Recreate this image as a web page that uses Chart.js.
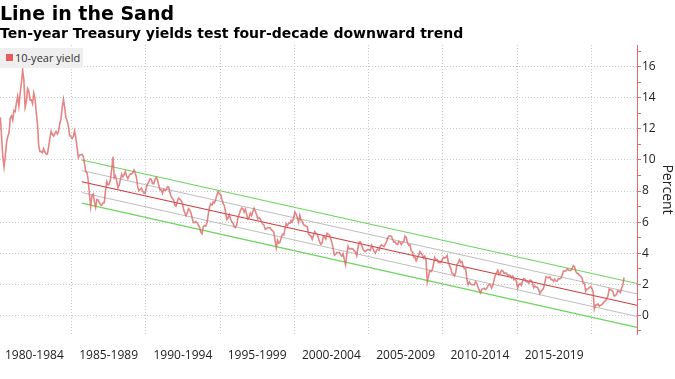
<!DOCTYPE html>
<html><head><meta charset="utf-8">
<script src="https://cdn.jsdelivr.net/npm/chart.js@4"></script>
<style>
html,body{margin:0;padding:0;background:#fff;}
#wrap{position:relative;width:675px;height:379px;overflow:hidden;background:#fff;}
#title{position:absolute;left:0;top:4px;font:bold 19px/19px "DejaVu Sans";color:#000;white-space:nowrap;z-index:2;}
#subtitle{position:absolute;left:0;top:26px;font:bold 14px/14px "DejaVu Sans";color:#000;white-space:nowrap;z-index:2;}
#legend{position:absolute;left:0;top:48px;width:83px;height:20px;background:#efefef;font:11px/20px "Open Sans";color:#333;z-index:2;}
#legend .sw{position:absolute;left:6px;top:6px;width:7px;height:7px;background:#e95b5b;}
#legend .tx{position:absolute;left:15px;top:0;white-space:nowrap;}
canvas{position:absolute;left:0;top:0;z-index:1;}
</style></head>
<body>
<div id="wrap">
  <canvas id="c" width="675" height="379"></canvas>
  <div id="title">Line in the Sand</div>
  <div id="subtitle">Ten-year Treasury yields test four-decade downward trend</div>
  <div id="legend"><span class="sw"></span><span class="tx">10-year yield</span></div>
</div>
<script>
// Monthly 10-year Treasury yield (%), Jan of first year onward
const yields1980s = [
  10.80,12.41,12.75,11.47,10.18,9.55,10.25,11.10,11.51,11.75,12.68,12.84,
  12.57,13.19,13.12,13.68,14.10,13.47,14.28,14.94,15.80,15.15,13.39,13.72,
  14.59,14.43,13.86,13.87,13.62,14.30,13.95,13.06,12.34,10.91,10.55,10.54,
  10.46,10.72,10.51,10.40,10.38,10.85,11.38,11.85,11.65,11.54,11.69,11.83,
  11.67,11.84,12.32,12.63,13.41,13.90,13.36,12.72,12.52,12.16,11.57,11.50,
  11.38,11.51,11.86,11.43,10.85,10.16,10.31,10.33,10.37,10.24,9.78,9.26,
  9.19,8.70,7.78,7.00,7.71,7.80,7.30,6.95,7.45,7.43,7.25,7.11,
  7.08,7.25,7.25,8.02,8.61,8.40,8.45,8.76,9.42,10.20,8.86,8.99,
  8.67,8.21,8.37,8.72,9.09,8.92,9.06,9.26,8.98,8.80,8.96,9.11,
  9.09,9.17,9.36,9.18,8.86,8.28,8.02,8.11,8.19,8.01,7.87,7.84
];
const yields1990s = [
  8.21,8.47,8.59,8.79,8.76,8.48,8.47,8.75,8.89,8.72,8.39,8.08,
  8.09,7.85,8.11,8.04,8.07,8.28,8.27,7.90,7.65,7.53,7.42,7.09,
  7.03,7.34,7.54,7.48,7.39,7.26,6.84,6.59,6.42,6.59,6.87,6.77,
  6.60,6.26,5.98,5.97,6.04,5.96,5.81,5.68,5.36,5.25,5.72,5.77,
  5.75,5.97,6.48,6.97,7.18,7.10,7.30,7.24,7.46,7.74,7.96,7.81,
  7.78,7.47,7.20,7.06,6.63,6.17,6.28,6.49,6.20,6.04,5.93,5.71,
  5.65,5.81,6.27,6.51,6.74,6.91,6.87,6.64,6.83,6.53,6.20,6.30,
  6.58,6.42,6.69,6.89,6.71,6.49,6.22,6.30,6.21,6.03,5.88,5.81,
  5.54,5.57,5.65,5.64,5.65,5.50,5.46,5.34,4.81,4.35,4.83,4.65,
  4.72,5.00,5.23,5.18,5.54,5.90,5.79,5.94,5.92,6.11,6.03,6.28
];
const yields2000s = [
  6.66,6.52,6.26,5.99,6.44,6.10,6.05,5.83,5.80,5.74,5.72,5.24,
  5.16,5.10,4.89,5.14,5.39,5.28,5.24,4.97,4.73,4.57,4.65,5.09,
  5.04,4.91,5.28,5.21,5.16,4.93,4.65,4.26,3.87,3.94,4.05,4.03,
  4.05,3.90,3.81,3.96,3.57,3.25,3.98,4.45,4.27,4.29,4.30,4.27,
  4.15,4.08,3.83,4.35,4.72,4.73,4.50,4.28,4.13,4.10,4.19,4.23,
  4.22,4.17,4.50,4.34,4.14,4.00,4.18,4.26,4.20,4.46,4.54,4.47,
  4.42,4.57,4.72,4.99,5.11,5.11,5.09,4.88,4.72,4.73,4.60,4.56,
  4.76,4.72,4.56,4.69,4.75,5.10,5.00,4.67,4.52,4.53,4.15,4.10,
  3.74,3.74,3.51,3.68,3.88,4.10,4.01,3.89,3.69,3.81,3.53,2.15,
  2.52,2.87,2.82,2.93,3.29,3.72,3.56,3.59,3.40,3.39,3.40,3.59
];
const yields2010s = [
  3.73,3.69,3.73,3.85,3.42,3.20,3.01,2.70,2.65,2.54,2.76,3.29,
  3.39,3.58,3.41,3.46,3.17,3.00,3.00,2.30,1.98,2.15,2.01,1.98,
  1.97,1.97,2.17,2.05,1.80,1.62,1.45,1.68,1.72,1.75,1.65,1.72,
  1.91,1.98,1.96,1.76,1.93,2.30,2.58,2.74,2.90,2.62,2.72,2.90,
  2.86,2.71,2.72,2.71,2.56,2.60,2.54,2.42,2.53,2.30,2.33,2.21,
  1.75,1.98,2.04,1.94,2.20,2.36,2.32,2.17,2.17,2.07,2.26,2.24,
  2.09,1.78,1.89,1.81,1.81,1.64,1.40,1.56,1.63,1.76,2.14,2.49,
  2.43,2.42,2.48,2.30,2.30,2.19,2.32,2.21,2.20,2.36,2.35,2.40,
  2.58,2.86,2.84,2.87,2.98,2.91,2.89,2.89,3.00,3.20,3.12,2.83,
  2.71,2.68,2.57,2.53,2.40,2.07,2.06,1.55,1.70,1.71,1.81,1.86
];
const yields2020s = [
  1.76,1.50,0.40,0.66,0.67,0.73,0.58,0.65,0.68,0.79,0.87,0.93,
  1.08,1.26,1.70,1.64,1.62,1.52,1.25,1.28,1.37,1.58,1.56,1.47,
  1.76,1.93,2.45
];
const decadeStarts = [1980, 1990, 2000, 2010, 2020];

// Trend channel endpoints [start, end] (%)
const trendYears   = [1985.69, 2023.08];
const trendUpper2  = [10.00, 2.05];
const trendUpper1  = [9.32, 1.38];
const trendCenter  = [8.60, 0.65];
const trendLower1  = [7.90, -0.07];
const trendLower2  = [7.22, -0.78];

// Axis labels
const periodLabels = ['1980-1984','1985-1989','1990-1994','1995-1999','2000-2004','2005-2009','2010-2014','2015-2019'];
const yTickLabels = [0,2,4,6,8,10,12,14,16];

// ---- build points ----
const decades = [yields1980s, yields1990s, yields2000s, yields2010s, yields2020s];
const yieldPoints = [];
decades.forEach((arr, d) => {
  arr.forEach((v, i) => {
    yieldPoints.push({x: decadeStarts[d] + (i + 0.5) / 12, y: v});
  });
});
const mkTrend = (vals) => trendYears.map((yr, i) => ({x: yr, y: vals[i]}));

const periodCenters = periodLabels.map(l => parseInt(l.slice(0,4),10) + 2.5);
const gridYears = periodLabels.map(l => parseInt(l.slice(0,4),10) + 5);

const GRID = '#c9c9c9';
const NONE = 'rgba(0,0,0,0)';
const AXIS_RED = '#e36a6a';

new Chart(document.getElementById('c'), {
  type: 'line',
  data: {
    datasets: [
      {label: '10-year yield', data: yieldPoints, borderColor: 'rgba(222,92,92,0.75)', borderWidth: 1.6, pointRadius: 0, tension: 0},
      {label: 'upper2', data: mkTrend(trendUpper2), borderColor: '#6ad65c', borderWidth: 1.2, pointRadius: 0},
      {label: 'upper1', data: mkTrend(trendUpper1), borderColor: '#bdbdbd', borderWidth: 1, pointRadius: 0},
      {label: 'center', data: mkTrend(trendCenter), borderColor: '#cf3b3b', borderWidth: 1.2, pointRadius: 0},
      {label: 'lower1', data: mkTrend(trendLower1), borderColor: '#bdbdbd', borderWidth: 1, pointRadius: 0},
      {label: 'lower2', data: mkTrend(trendLower2), borderColor: '#6ad65c', borderWidth: 1.2, pointRadius: 0}
    ]
  },
  options: {
    responsive: false,
    animation: false,
    devicePixelRatio: 1,
    layout: {padding: {top: 45, left: 0, right: 0, bottom: 0}},
    plugins: {legend: {display: false}, tooltip: {enabled: false}, title: {display: false}},
    scales: {
      x: {
        type: 'linear',
        min: 1980.185,
        max: 2023.08,
        afterBuildTicks: (s) => {
          const vals = periodCenters.concat(gridYears).sort((a,b) => a-b);
          s.ticks = vals.map(v => ({value: v}));
        },
        afterFit: (s) => { s.height = 45; s.paddingLeft = 0; s.paddingRight = 0; },
        ticks: {
          autoSkip: false, maxRotation: 0, minRotation: 0,
          padding: 14,
          color: '#222',
          font: {family: 'Open Sans', size: 12},
          callback: (v) => {
            const i = periodCenters.indexOf(v);
            return i >= 0 ? periodLabels[i] : '';
          }
        },
        grid: {
          drawTicks: false,
          lineWidth: 1,
          color: (ctx) => (ctx.tick && gridYears.includes(ctx.tick.value)) ? GRID : NONE
        },
        border: {display: false, dash: [1, 2]}
      },
      y: {
        position: 'right',
        min: -1.2,
        max: 17.4,
        afterBuildTicks: (s) => {
          const t = [];
          for (let v = -1; v <= 17; v++) t.push({value: v});
          s.ticks = t;
        },
        afterFit: (s) => { s.width = 38; s.paddingTop = 0; s.paddingBottom = 0; },
        ticks: {
          autoSkip: false,
          padding: 1,
          color: '#222',
          font: {family: 'Open Sans', size: 12},
          callback: (v) => yTickLabels.includes(v) ? String(v) : ''
        },
        grid: {
          drawTicks: true,
          tickLength: 4,
          tickColor: AXIS_RED,
          lineWidth: 1,
          color: (ctx) => (ctx.tick && yTickLabels.includes(ctx.tick.value)) ? GRID : NONE
        },
        border: {display: true, color: AXIS_RED, width: 1, dash: [1, 2]},
        title: {
          display: true,
          text: 'Percent',
          color: '#222',
          font: {family: 'Open Sans', size: 14},
          padding: 0
        }
      }
    }
  }
});
</script>
</body></html>
